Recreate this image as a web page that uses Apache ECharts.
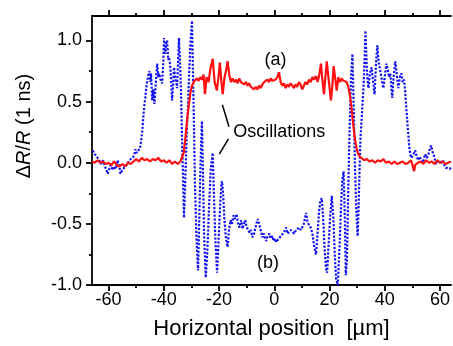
<!DOCTYPE html>
<html><head><meta charset="utf-8">
<script src="https://cdn.jsdelivr.net/npm/echarts@6/dist/echarts.min.js"></script>
<style>html,body{margin:0;padding:0;background:#fff}#c{width:453px;height:346px}</style>
</head><body><div id="c"></div>
<script>
// ---- data (x in µm, y = ΔR/R) ----
const seriesA = [[-66,0.01],[-65,0.00],[-64,0.02],[-63,0.00],[-62,0.01],[-61,-0.01],[-60,0.00],[-59,-0.02],[-58,0.01],[-57,-0.02],[-56,-0.03],[-55,-0.01],[-54,-0.03],[-53,0.00],[-52,-0.01],[-51,0.01],[-50,0.03],[-49,0.01],[-48,0.04],[-47,0.02],[-46,0.03],[-45,0.01],[-44,0.03],[-43,0.02],[-42,0.04],[-41,0.01],[-40,0.02],[-39,0.00],[-38,0.02],[-37,-0.01],[-36,0.01],[-35,-0.01],[-34,0.01],[-33.4,0.00],[-32.8,0.08],[-32.2,0.20],[-31.6,0.34],[-31.0,0.46],[-30.4,0.57],[-29.8,0.63],[-29.2,0.66],[-28.6,0.65],[-28.0,0.69],[-27.4,0.67],[-26.8,0.70],[-26.2,0.68],[-25.6,0.72],[-25.1,0.56],[-24.5,0.70],[-23.8,0.66],[-23.2,0.76],[-22.3,0.85],[-21.6,0.66],[-20.8,0.59],[-20.2,0.70],[-19.7,0.82],[-19.2,0.68],[-18.7,0.56],[-18.0,0.70],[-17.4,0.76],[-16.9,0.83],[-16.3,0.72],[-15.7,0.66],[-15.1,0.69],[-14.5,0.66],[-13.9,0.68],[-13.3,0.65],[-12.7,0.69],[-12.1,0.66],[-11.5,0.67],[-10.9,0.64],[-10.3,0.66],[-9.7,0.63],[-9.1,0.65],[-8.5,0.62],[-7.9,0.63],[-7.3,0.60],[-6.7,0.62],[-6.1,0.60],[-5.5,0.63],[-4.9,0.61],[-4.3,0.64],[-3.7,0.66],[-3.1,0.65],[-2.5,0.68],[-1.9,0.66],[-1.3,0.69],[-0.7,0.67],[-0.1,0.66],[0.5,0.68],[1.1,0.70],[1.7,0.74],[2.3,0.66],[2.9,0.63],[3.5,0.65],[4.1,0.61],[4.7,0.64],[5.3,0.62],[5.9,0.65],[6.5,0.63],[7.1,0.61],[7.7,0.64],[8.3,0.62],[8.9,0.66],[9.5,0.64],[10.1,0.60],[10.7,0.63],[11.3,0.66],[11.9,0.64],[12.6,0.68],[13.2,0.66],[13.8,0.70],[14.4,0.68],[15.1,0.71],[15.7,0.66],[16.3,0.72],[16.9,0.81],[17.5,0.66],[18.0,0.56],[18.5,0.70],[19.0,0.83],[19.6,0.70],[20.5,0.51],[21.0,0.62],[21.5,0.79],[22.0,0.70],[22.6,0.59],[23.2,0.70],[23.8,0.66],[24.4,0.69],[25.0,0.67],[25.6,0.68],[26.2,0.66],[26.8,0.62],[27.4,0.55],[28.0,0.44],[28.7,0.29],[29.3,0.18],[29.8,0.12],[30.4,0.07],[31.0,0.05],[31.6,0.04],[32.5,0.02],[33.5,0.03],[34.5,0.01],[35.5,0.02],[36.5,0.00],[37.5,0.02],[38.5,0.01],[39.5,0.03],[40.5,0.00],[41.5,0.01],[42.5,-0.01],[43.5,0.01],[44.5,-0.01],[45.5,0.00],[46.5,0.01],[47.5,-0.01],[48.5,0.00],[49.5,0.02],[50.2,-0.03],[50.6,-0.07],[51.0,-0.02],[52,0.00],[53,0.01],[54,-0.01],[55,0.02],[56,0.00],[57,0.01],[58,-0.01],[59,0.02],[60,0.00],[61,0.01],[62,-0.01],[63,0.00],[64,0.01]];

const seriesB = [[-65.7,0.10],[-65.0,0.07],[-64.3,0.05],[-63.6,0.03],[-62.8,-0.01],[-62.0,0.02],[-61.3,-0.03],[-60.3,-0.09],[-59.6,-0.04],[-59.2,-0.02],[-58.5,-0.06],[-58.0,-0.03],[-57.3,-0.05],[-56.7,0.02],[-56.0,-0.04],[-55.7,-0.09],[-55.0,-0.06],[-54.6,-0.07],[-54.0,-0.03],[-53.1,-0.01],[-52.5,0.02],[-51.8,0.01],[-51.3,0.04],[-50.7,0.06],[-50.3,0.11],[-49.8,0.08],[-49.2,0.07],[-48.6,0.12],[-48.2,0.18],[-47.8,0.26],[-47.4,0.38],[-47.0,0.48],[-46.7,0.53],[-46.3,0.62],[-46.0,0.67],[-45.6,0.72],[-45.2,0.75],[-44.9,0.66],[-44.6,0.73],[-44.2,0.51],[-43.8,0.60],[-43.4,0.48],[-43.0,0.62],[-42.7,0.72],[-42.4,0.81],[-42.0,0.70],[-41.7,0.73],[-41.2,0.68],[-40.6,0.65],[-40.2,0.82],[-39.9,1.02],[-39.5,0.89],[-39.2,0.97],[-38.8,1.00],[-38.4,0.84],[-38.1,0.86],[-37.7,0.80],[-37.3,0.66],[-37.0,0.51],[-36.6,0.64],[-36.3,0.78],[-35.9,0.70],[-35.5,0.66],[-35.2,0.61],[-34.8,0.85],[-34.5,1.02],[-34.1,0.80],[-33.8,0.61],[-33.4,0.20],[-33.0,-0.15],[-32.7,-0.45],[-32.3,-0.20],[-31.9,0.10],[-31.6,0.30],[-31.2,0.48],[-30.8,0.75],[-30.3,1.00],[-29.8,1.16],[-29.4,0.70],[-29.0,0.20],[-28.7,-0.20],[-28.2,-0.60],[-27.6,-0.88],[-27.2,-0.50],[-26.7,0.00],[-26.2,0.34],[-25.8,-0.10],[-25.4,-0.60],[-24.8,-0.94],[-24.2,-0.70],[-23.6,-0.35],[-23.0,-0.05],[-22.3,0.08],[-21.8,-0.30],[-21.3,-0.65],[-20.7,-0.90],[-20.1,-0.60],[-19.5,-0.30],[-19.0,-0.15],[-18.6,-0.22],[-18.1,-0.45],[-17.5,-0.62],[-16.9,-0.69],[-16.4,-0.55],[-15.8,-0.47],[-15.3,-0.50],[-14.8,-0.43],[-14.2,-0.46],[-13.6,-0.42],[-13.1,-0.50],[-12.6,-0.53],[-12.0,-0.47],[-11.5,-0.54],[-11.0,-0.50],[-10.5,-0.47],[-10.1,-0.52],[-9.5,-0.55],[-9.0,-0.57],[-8.5,-0.55],[-7.9,-0.61],[-7.3,-0.58],[-6.8,-0.53],[-6.5,-0.50],[-6.0,-0.46],[-5.4,-0.45],[-4.9,-0.55],[-4.3,-0.61],[-3.8,-0.58],[-3.3,-0.62],[-2.9,-0.64],[-2.4,-0.60],[-1.8,-0.58],[-1.3,-0.62],[-0.7,-0.60],[-0.2,-0.64],[0.3,-0.62],[0.7,-0.65],[1.3,-0.63],[1.8,-0.64],[2.4,-0.60],[2.9,-0.60],[3.5,-0.57],[4.3,-0.53],[4.8,-0.58],[5.4,-0.58],[6.0,-0.55],[6.5,-0.56],[7.2,-0.58],[7.9,-0.55],[8.5,-0.56],[9.0,-0.53],[9.6,-0.55],[10.1,-0.53],[10.7,-0.50],[11.5,-0.41],[12.0,-0.48],[12.6,-0.51],[13.2,-0.53],[13.8,-0.58],[14.4,-0.68],[15.1,-0.75],[15.6,-0.60],[16.2,-0.40],[16.7,-0.31],[17.2,-0.29],[17.7,-0.45],[18.2,-0.70],[18.7,-0.86],[19.1,-0.90],[19.6,-0.70],[20.2,-0.45],[20.8,-0.27],[21.4,-0.45],[21.9,-0.75],[22.4,-0.95],[23.0,-1.00],[23.6,-0.70],[24.2,-0.35],[24.6,-0.15],[25.1,-0.07],[25.5,-0.40],[25.9,-0.92],[26.3,-0.80],[26.8,-0.20],[27.3,0.30],[27.8,0.70],[28.3,0.89],[28.8,0.40],[29.3,-0.10],[29.8,-0.45],[30.2,-0.60],[30.6,-0.30],[31.0,0.05],[31.2,0.20],[31.6,0.34],[32.0,0.50],[32.3,0.61],[32.7,0.85],[33.0,1.08],[33.4,0.83],[33.7,0.70],[34.1,0.61],[34.6,0.72],[35.2,0.78],[35.8,0.66],[36.3,0.56],[36.8,0.80],[37.3,0.96],[37.8,0.82],[38.4,0.75],[38.9,0.68],[39.5,0.61],[40.0,0.70],[40.6,0.81],[41.1,0.76],[41.6,0.70],[42.0,0.73],[42.4,0.62],[42.7,0.53],[43.2,0.70],[43.8,0.83],[44.3,0.74],[44.9,0.61],[45.5,0.70],[46.0,0.73],[46.5,0.66],[47.0,0.68],[47.4,0.58],[47.8,0.45],[48.3,0.30],[48.8,0.15],[49.2,0.07],[49.6,0.04],[50.2,0.06],[51.0,0.10],[51.6,0.05],[52.1,0.02],[52.6,0.05],[53.1,0.04],[53.8,0.00],[54.6,0.07],[55.2,0.04],[55.7,0.06],[56.4,0.12],[56.8,0.14],[57.3,0.09],[57.8,0.06],[58.5,-0.01],[59.2,0.00],[59.8,0.02],[60.3,-0.01],[61.0,0.02],[61.6,-0.02],[62.1,-0.04],[62.8,-0.03],[63.6,-0.05],[64.0,-0.04]];

const xMajorTicks = [-60,-40,-20,0,20,40,60];
const xMinorTicks = [-50,-30,-10,10,30,50];
const yMajorTicks = [-1,-0.5,0,0.5,1];
const yMinorTicks = [-0.75,-0.25,0.25,0.75];
const xRange = [-66, 64];
const yRange = [-1, 1.2];

// annotations in data coordinates
const labelsText = [
  {text:'(a)', at:[0.4, 0.84]},
  {text:'(b)', at:[-2.3, -0.82]},
  {text:'Oscillations', at:[1.8, 0.25]}
];
const leaderLines = [
  [[-18.8, 0.474], [-16.4, 0.294]],
  [[-16.6, 0.196], [-19.9, 0.071]]
];

// ---- chart ----
const FONT = '"Liberation Sans", Arial, sans-serif';
const lineSt = {color:'#000', width:1.8};
function xAx(pos, vals, len, showLabel, showLine, extra) {
  return Object.assign({
    type:'value', position:pos, min:xRange[0], max:xRange[1],
    axisLine:{show:showLine, onZero:false, lineStyle:lineSt},
    axisTick:{show:true, inside:false, customValues:vals, length:len, lineStyle:lineSt},
    axisLabel:{show:showLabel, customValues:vals, margin:6, color:'#000', fontSize:18, fontFamily:FONT},
    splitLine:{show:false}
  }, extra||{});
}
function yAx(vals, len, showLabel, showLine) {
  return {
    type:'value', position:'left', min:yRange[0], max:yRange[1],
    axisLine:{show:showLine, onZero:false, lineStyle:lineSt},
    axisTick:{show:true, inside:false, customValues:vals, length:len, lineStyle:lineSt},
    axisLabel:{show:showLabel, customValues:vals, margin:10, color:'#000', fontSize:18, fontFamily:FONT,
      formatter:v => Number(v).toFixed(1)},
    splitLine:{show:false}
  };
}

const chart = echarts.init(document.getElementById('c'), null, {renderer:'canvas'});
chart.setOption({
  animation:false,
  backgroundColor:'#fff',
  grid:{left:92, right:0, top:16, bottom:61, containLabel:false},
  xAxis:[
    xAx('bottom', xMajorTicks, 6, true, true, {
      name:'Horizontal position  [µm]', nameLocation:'middle', nameGap:33,
      nameTextStyle:{color:'#000', fontSize:22, fontFamily:FONT}
    }),
    xAx('bottom', xMinorTicks, 3, false, false),
    xAx('top', xMajorTicks, 6, false, true),
    xAx('top', xMinorTicks, 3, false, false)
  ],
  yAxis:[ yAx(yMajorTicks, 6, true, true), yAx(yMinorTicks, 3, false, false) ],
  series:[
    {type:'line', name:'(b)', data:seriesB, showSymbol:false, symbol:'none',
      lineStyle:{color:'#1212ee', width:2.2, type:[2.2,1.6]}, z:2},
    {type:'line', name:'(a)', data:seriesA, showSymbol:false, symbol:'none',
      lineStyle:{color:'#ff0f0f', width:2.2}, z:3}
  ]
});

const g = [];
const toPx = p => chart.convertToPixel({gridIndex:0}, p);
labelsText.forEach(a => {
  const p = toPx(a.at);
  g.push({type:'text', x:p[0], y:p[1], z:10,
    style:{text:a.text, font:'18px ' + FONT, fill:'#000',
      textAlign:'center', textVerticalAlign:'middle', align:'center', verticalAlign:'middle'}});
});
leaderLines.forEach(l => {
  const p1 = toPx(l[0]), p2 = toPx(l[1]);
  g.push({type:'line', z:10, shape:{x1:p1[0], y1:p1[1], x2:p2[0], y2:p2[1]},
    style:{stroke:'#000', lineWidth:1.5}});
});
// rotated y-axis title with italic R
g.push({type:'text', x:24, y:126, rotation:Math.PI/2, z:10,
  style:{text:'{n|Δ}{i|R}{n|/}{i|R}{n| (1 ns)}', fill:'#000',
    textAlign:'center', textVerticalAlign:'middle', align:'center', verticalAlign:'middle',
    rich:{n:{font:'20px ' + FONT, fill:'#000'}, i:{font:'italic 20px ' + FONT, fill:'#000'}}}});
chart.setOption({graphic:{elements:g}});
</script>
</body></html>
